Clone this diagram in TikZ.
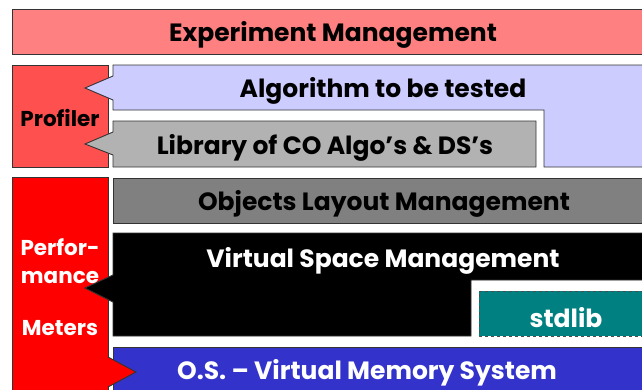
\documentclass[tikz,border=0pt]{standalone}
\usepackage{fontspec}
\setmainfont{Poppins}
\begin{document}
\begin{tikzpicture}[x=1pt,y=-1pt,
  layer/.style={draw=black!80,line width=0.9pt,line join=miter},
  lbl/.style={font=\bfseries\fontsize{25}{28}\selectfont,inner sep=0pt,anchor=center},
  sidelbl/.style={font=\bfseries\fontsize{21.5}{28}\selectfont,inner sep=0pt,align=center}]
  \definecolor{expcol}{RGB}{255,128,128}
  \definecolor{profcol}{RGB}{255,80,80}
  \definecolor{perfcol}{RGB}{255,0,0}
  \definecolor{algocol}{RGB}{204,204,255}
  \definecolor{libcol}{RGB}{178,178,178}
  \definecolor{objcol}{RGB}{128,128,128}
  \definecolor{stdcol}{RGB}{0,128,128}
  \definecolor{oscol}{RGB}{51,51,204}
  \useasboundingbox (0,0) rectangle (642,389);
  \begin{scope}
  \clip (0,0) rectangle (642,389);
  % top layer
  \fill[expcol] (12,9) rectangle (650,54);
  \draw[layer] (650,9) -- (12,9) -- (12,54) -- (650,54);
  % profiler column
  \filldraw[layer,fill=profcol] (12,65) rectangle (108,167);
  % algorithm under test (L-shaped, with pointer into the profiler)
  \filldraw[layer,fill=algocol] (650,65) -- (113,65) -- (113,76) -- (85,88) -- (113,100)
     -- (113,110) -- (544,110) -- (544,167) -- (650,167);
  % library of cache-oblivious algorithms
  \filldraw[layer,fill=libcol] (536,121) -- (113,121) -- (113,132) -- (85,144) -- (113,155)
     -- (113,167) -- (536,167) -- cycle;
  % performance meters column
  \filldraw[layer,fill=perfcol] (12,177) -- (108,177) -- (108,395) -- (12,395) -- cycle;
  % objects layout
  \filldraw[layer,fill=objcol] (650,178) -- (113,178) -- (113,223) -- (650,223);
  % virtual space management
  \filldraw[layer,fill=black] (650,233) -- (113,233) -- (113,275) -- (85,288) -- (113,302)
     -- (113,336) -- (471,336) -- (471,280) -- (650,280);
  % stdlib
  \fill[stdcol] (479,291) rectangle (650,336);
  \draw[draw=black!70,line width=0.9pt,dashed] (650,291) -- (479,291) -- (479,336) -- (650,336);
  % OS virtual memory
  \filldraw[layer,fill=oscol] (650,347) -- (113,347) -- (113,395) -- (650,395);
  % pointer from the meters into the OS layer
  \filldraw[layer,fill=perfcol] (108,357) -- (136,372) -- (108,387);
  \fill[perfcol] (105,358) rectangle (108.5,386);
  \end{scope}
  % labels
  \node[lbl] (exp) at (333,35) {Experiment Management};
  \node[lbl] (algo) at (383,91) {Algorithm to be tested};
  \node[lbl] (lib) at (325,148) {Library of CO Algo’s \& DS’s};
  \node[sidelbl] (prof) at (60,118) {Profiler};
  \node[lbl] (obj) at (384,204) {Objects Layout Management};
  \node[lbl,text=white] (vsm) at (383,261) {Virtual Space Management};
  \node[lbl,text=white] (std) at (566,318) {stdlib};
  \node[lbl,text=white] (os) at (367,373) {O.S. – Virtual Memory System};
  \node[sidelbl,text=white] (perf) at (60,261) {Perfor-\\mance};
  \node[sidelbl,text=white] (met) at (60,328) {Meters};
\end{tikzpicture}
\end{document}
